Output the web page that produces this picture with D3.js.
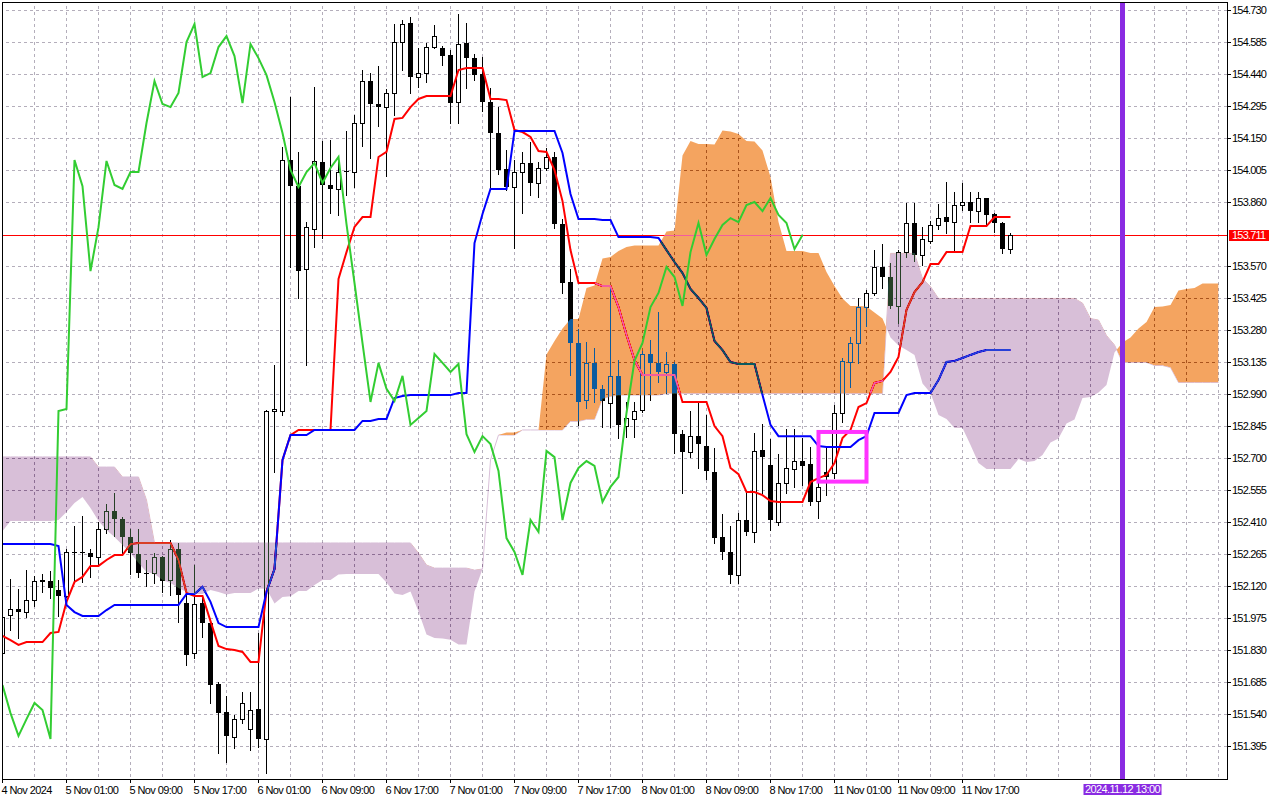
<!DOCTYPE html>
<html>
<head>
<meta charset="utf-8">
<script src="https://cdn.jsdelivr.net/npm/d3@7"></script>
<style>
  body { margin: 0; background: #fff; }
  svg { display: block; font-family: "Liberation Sans", Arial, sans-serif; }
</style>
</head>
<body>
<div id="chart"></div>
<script>
// USDJPY H1 with Ichimoku. Bar 0 = 4 Nov 2024 17:00, bar 126 = last bar.
var opens = [
151.816,151.988,152.016,152.002,152.057,152.143,152.143,152.102,152.075,152.274,
152.274,152.269,152.252,152.379,152.460,152.424,152.342,152.265,152.179,152.179,
152.252,152.147,152.288,152.043,151.816,152.043,151.952,151.676,151.549,151.436,
151.517,151.472,151.563,151.427,152.913,152.913,154.050,153.932,153.556,153.737,
154.041,153.937,153.919,154.000,153.996,154.218,154.408,154.304,154.290,154.354,
154.585,154.671,154.426,154.444,154.562,154.558,154.526,154.313,154.580,154.512,
154.440,154.313,154.173,154.009,153.928,153.996,154.036,153.946,154.014,154.064,
153.760,153.498,153.221,152.963,153.131,153.013,152.949,153.072,152.845,152.877,
152.917,153.171,153.131,153.090,153.126,152.808,152.727,152.799,152.754,152.637,
152.342,152.274,152.170,152.419,152.365,152.736,152.668,152.410,152.587,152.650,
152.686,152.673,152.505,152.637,152.632,152.904,153.135,153.221,153.384,153.448,
153.566,153.520,153.389,153.633,153.765,153.620,153.683,153.756,153.792,153.769,
153.846,153.860,153.819,153.878,153.806,153.765,153.647];
var highs = [
152.034,152.152,152.107,152.192,152.165,152.174,152.188,152.147,152.288,152.392,
152.437,152.288,152.410,152.492,152.541,152.433,152.379,152.379,152.238,152.269,
152.256,152.328,152.315,152.079,152.215,152.070,151.955,151.685,151.622,151.536,
151.640,151.640,151.907,152.917,153.122,154.110,154.336,154.087,153.769,154.381,
154.136,154.141,154.059,154.182,154.254,154.458,154.444,154.476,154.372,154.666,
154.685,154.698,154.558,154.580,154.662,154.567,154.549,154.712,154.671,154.530,
154.517,154.376,154.290,154.096,154.050,154.087,154.132,154.041,154.105,154.087,
153.783,153.556,153.285,153.226,153.198,153.031,153.470,153.144,152.954,152.954,
153.185,153.235,153.362,153.180,153.135,152.827,152.913,152.949,152.895,152.745,
152.446,152.392,152.451,152.541,152.813,152.854,152.786,152.718,152.831,152.831,
152.790,152.750,152.587,152.750,152.940,153.153,153.248,153.425,153.461,153.642,
153.670,153.583,153.642,153.855,153.855,153.747,153.774,153.851,153.950,153.905,
153.946,153.905,153.905,153.880,153.810,153.769,153.719];
var lows = [
151.803,151.921,151.885,151.979,152.030,152.093,152.066,151.984,152.072,152.147,
152.138,152.161,152.220,152.360,152.347,152.260,152.174,152.161,152.120,152.134,
152.093,152.079,151.957,151.762,151.794,151.889,151.590,151.363,151.323,151.386,
151.499,151.377,151.390,151.273,152.637,152.895,153.566,153.425,153.122,153.656,
153.697,153.810,153.801,153.892,153.928,154.114,154.059,154.204,153.978,154.254,
154.458,154.354,154.381,154.404,154.558,154.481,154.218,154.218,154.376,154.413,
154.272,153.928,153.987,153.914,153.651,153.810,153.892,153.883,154.005,153.742,
153.448,153.076,152.850,152.927,152.954,152.840,152.840,152.790,152.795,152.795,
152.908,152.963,153.044,152.995,152.723,152.541,152.704,152.655,152.605,152.315,
152.242,152.134,152.134,152.351,152.319,152.541,152.374,152.397,152.541,152.569,
152.578,152.487,152.428,152.532,152.609,152.863,153.021,153.131,153.298,153.439,
153.470,153.380,153.312,153.610,153.592,153.574,153.674,153.738,153.719,153.633,
153.824,153.769,153.769,153.756,153.724,153.629,153.629];
var closes = [
151.979,152.016,152.002,152.057,152.143,152.147,152.111,152.075,152.274,152.269,
152.269,152.252,152.379,152.460,152.424,152.342,152.269,152.179,152.178,152.252,
152.143,152.288,152.079,151.807,152.039,151.952,151.671,151.544,151.441,151.517,
151.590,151.558,151.427,152.913,152.922,154.050,153.932,153.547,153.746,154.046,
153.937,153.919,153.996,153.996,154.218,154.408,154.304,154.290,154.354,154.585,
154.666,154.426,154.444,154.562,154.612,154.521,154.308,154.576,154.512,154.435,
154.313,154.173,154.005,153.928,153.996,154.036,153.946,154.014,154.064,153.760,
153.493,153.221,152.954,153.131,153.013,152.958,153.072,152.850,152.881,152.913,
153.171,153.131,153.090,153.126,152.808,152.727,152.799,152.763,152.641,152.337,
152.274,152.170,152.419,152.365,152.732,152.704,152.419,152.587,152.655,152.686,
152.664,152.501,152.569,152.614,152.904,153.140,153.221,153.384,153.448,153.566,
153.520,153.389,153.633,153.765,153.620,153.692,153.756,153.787,153.769,153.846,
153.860,153.819,153.878,153.801,153.765,153.647,153.711];

var tenkan = [
151.894,151.875,151.853,151.866,151.866,151.866,151.907,151.912,152.048,152.138,
152.161,152.211,152.211,152.238,152.260,152.260,152.310,152.315,152.315,152.315,
152.315,152.315,152.238,152.088,152.075,152.075,151.961,151.848,151.834,151.830,
151.821,151.776,151.776,152.097,152.197,152.691,152.804,152.827,152.827,152.827,
152.827,152.827,153.511,153.633,153.747,153.792,153.792,154.064,154.087,154.236,
154.241,154.290,154.327,154.340,154.340,154.340,154.340,154.458,154.467,154.467,
154.467,154.327,154.327,154.322,154.186,154.177,154.155,154.091,154.087,154.005,
153.864,153.642,153.493,153.493,153.493,153.479,153.479,153.384,153.257,153.144,
153.076,153.076,153.076,153.076,153.076,152.954,152.954,152.954,152.954,152.845,
152.799,152.655,152.627,152.546,152.546,152.532,152.505,152.501,152.501,152.501,
152.501,152.591,152.609,152.623,152.677,152.790,152.827,152.931,152.949,153.040,
153.049,153.090,153.158,153.371,153.452,153.497,153.579,153.579,153.633,153.633,
153.633,153.751,153.751,153.751,153.792,153.792,153.792];
var kijun = [
152.310,152.310,152.310,152.310,152.310,152.310,152.310,152.301,152.034,152.002,
151.984,151.984,151.984,152.011,152.034,152.034,152.034,152.034,152.034,152.034,
152.034,152.034,152.034,152.084,152.084,152.116,152.048,151.952,151.934,151.934,
151.934,151.934,151.934,152.093,152.197,152.691,152.804,152.804,152.804,152.827,
152.827,152.827,152.827,152.827,152.827,152.868,152.868,152.877,152.877,152.972,
152.981,152.985,152.985,152.985,152.985,152.985,152.985,152.994,152.994,153.674,
153.806,153.919,153.919,153.919,154.182,154.182,154.182,154.182,154.182,154.182,
154.082,153.896,153.783,153.783,153.783,153.778,153.778,153.701,153.701,153.701,
153.701,153.701,153.697,153.642,153.588,153.538,153.466,153.425,153.380,153.230,
153.189,153.135,153.126,153.126,153.126,152.985,152.850,152.799,152.799,152.799,
152.799,152.799,152.754,152.750,152.750,152.750,152.750,152.781,152.799,152.904,
152.904,152.904,152.904,152.985,152.994,152.994,152.994,153.053,153.135,153.140,
153.153,153.167,153.180,153.189,153.189,153.189,153.189];
// Senkou spans run 26 bars past the last candle (bars 0..152)
var spanA = [
152.369,152.414,152.414,152.414,152.414,152.414,152.414,152.419,152.455,152.496,
152.523,152.473,152.414,152.374,152.342,152.306,152.269,152.224,152.183,152.174,
152.147,152.134,152.111,152.093,152.084,152.084,152.102,152.093,152.082,152.088,
152.088,152.088,152.109,152.107,152.041,152.070,152.073,152.097,152.097,152.124,
152.147,152.147,152.172,152.174,152.174,152.174,152.174,152.174,152.136,152.086,
152.079,152.095,152.004,151.900,151.884,151.882,151.877,151.855,151.855,152.095,
152.197,152.691,152.804,152.815,152.815,152.827,152.827,152.827,153.169,153.230,
153.287,153.330,153.330,153.470,153.482,153.604,153.611,153.638,153.656,153.663,
153.663,153.663,153.663,153.726,153.731,154.071,154.136,154.123,154.123,154.120,
154.184,154.179,154.168,154.136,154.134,154.093,153.973,153.769,153.638,153.638,
153.638,153.629,153.629,153.543,153.479,153.423,153.389,153.389,153.386,153.359,
153.332,153.246,153.210,153.189,153.167,153.038,152.994,152.895,152.877,152.836,
152.836,152.759,152.677,152.650,152.650,152.650,152.650,152.695,152.682,152.686,
152.714,152.770,152.788,152.856,152.874,152.972,152.976,152.997,153.031,153.178,
153.223,153.246,153.287,153.316,153.384,153.386,153.393,153.459,153.466,153.470,
153.491,153.491,153.491];
var spanB = [
152.705,152.705,152.705,152.705,152.705,152.705,152.705,152.705,152.705,152.705,
152.705,152.705,152.659,152.659,152.659,152.614,152.614,152.614,152.510,152.315,
152.315,152.315,152.315,152.315,152.315,152.315,152.315,152.315,152.315,152.315,
152.315,152.315,152.315,152.315,152.315,152.315,152.315,152.315,152.315,152.315,
152.315,152.315,152.315,152.315,152.315,152.315,152.315,152.315,152.315,152.315,
152.315,152.315,152.269,152.215,152.201,152.201,152.201,152.201,152.201,152.192,
152.197,152.691,152.804,152.804,152.804,152.827,152.827,152.827,152.827,152.827,
152.827,152.866,152.866,152.875,152.875,152.969,152.979,152.985,152.985,152.985,
152.985,152.985,152.985,152.992,152.992,152.992,152.992,152.992,152.992,152.992,
152.992,152.992,152.992,152.992,152.992,152.992,152.992,152.992,152.992,152.992,
152.992,152.992,152.992,152.992,152.992,152.992,152.992,152.992,152.992,152.992,
152.992,153.627,153.627,153.627,153.627,153.513,153.477,153.423,153.423,153.423,
153.423,153.423,153.423,153.423,153.423,153.423,153.423,153.423,153.423,153.423,
153.423,153.423,153.423,153.423,153.423,153.402,153.332,153.325,153.255,153.212,
153.133,153.133,153.133,153.133,153.119,153.119,153.110,153.042,153.042,153.042,
153.042,153.042,153.042];
var chikouShift = 26; // chikou span = close drawn 26 bars back

var timeTicks = [0, 8, 16, 24, 32, 40, 48, 56, 64, 72, 80, 88, 96, 104, 112, 120];
var timeLabels = ["4 Nov 2024", "5 Nov 01:00", "5 Nov 09:00", "5 Nov 17:00", "6 Nov 01:00",
  "6 Nov 09:00", "6 Nov 17:00", "7 Nov 01:00", "7 Nov 09:00", "7 Nov 17:00", "8 Nov 01:00",
  "8 Nov 09:00", "8 Nov 17:00", "11 Nov 01:00", "11 Nov 09:00", "11 Nov 17:00"];
var priceTicks = [154.730, 154.585, 154.440, 154.295, 154.150, 154.005, 153.860, 153.570,
  153.425, 153.280, 153.135, 152.990, 152.845, 152.700, 152.555, 152.410, 152.265, 152.120,
  151.975, 151.830, 151.685, 151.540, 151.395];
var lastPrice = 153.711;
var markerBar = 140, markerLabel = "2024.11.12 13:00";
var boxBars = [102, 108], boxPrices = [152.818, 152.593];

var width = 1280, height = 800;
var right = 1227, bottom = 779;

var x = d3.scaleLinear().domain([0, 152]).range([2, 1218]);
var y = d3.scaleLinear().domain([151.395, 154.730]).range([746, 10]);
function cx(i) { return x(i) + 0.5; }

var svg = d3.select("#chart").append("svg")
    .attr("width", width)
    .attr("height", height);
svg.append("rect").attr("width", width).attr("height", height).attr("fill", "#fff");

var defs = svg.append("defs");
defs.append("clipPath").attr("id", "plot")
  .append("rect").attr("x", 3).attr("y", 3).attr("width", right - 3).attr("height", bottom - 3);
defs.append("clipPath").attr("id", "aboveB")
  .append("path").attr("d", d3.area()
    .x(function(d, i) { return cx(i); })
    .y0(0)
    .y1(function(d) { return y(d); })(spanB));
defs.append("clipPath").attr("id", "belowB")
  .append("path").attr("d", d3.area()
    .x(function(d, i) { return cx(i); })
    .y0(function(d) { return y(d); })
    .y1(height)(spanB));

var plot = svg.append("g").attr("clip-path", "url(#plot)");
plot.append("rect").attr("width", width).attr("height", height).attr("fill", "#fff");

// grid
var grid = plot.append("g")
  .attr("stroke", "#b4aebb")
  .attr("stroke-dasharray", "3,3")
  .attr("shape-rendering", "crispEdges");
grid.selectAll("line.h").data(priceTicks).enter().append("line")
  .attr("x1", 0).attr("x2", right)
  .attr("y1", function(d) { return Math.round(y(d)) + 0.5; })
  .attr("y2", function(d) { return Math.round(y(d)) + 0.5; });
grid.selectAll("line.v").data(d3.range(4, 153, 4)).enter().append("line")
  .attr("x1", function(d) { return cx(d); }).attr("x2", function(d) { return cx(d); })
  .attr("y1", 0).attr("y2", bottom);

// bid line
plot.append("line")
  .attr("x1", 0).attr("x2", right)
  .attr("y1", Math.round(y(lastPrice)) + 0.5).attr("y2", Math.round(y(lastPrice)) + 0.5)
  .attr("stroke", "#ff0000").attr("shape-rendering", "crispEdges");

// candles
var candle = plot.append("g").attr("shape-rendering", "crispEdges")
  .selectAll("g").data(d3.range(closes.length)).enter().append("g");
candle.append("line")
  .attr("x1", function(i) { return cx(i); })
  .attr("x2", function(i) { return cx(i); })
  .attr("y1", function(i) { return Math.round(y(highs[i])); })
  .attr("y2", function(i) { return Math.round(y(lows[i])) + 1; })
  .attr("stroke", "#000");
candle.append("rect")
  .attr("x", function(i) { return closes[i] >= opens[i] ? x(i) - 1.5 : x(i) - 2; })
  .attr("y", function(i) { return Math.round(y(Math.max(opens[i], closes[i]))) + (closes[i] >= opens[i] ? 0.5 : 0); })
  .attr("width", function(i) { return closes[i] >= opens[i] ? 4 : 5; })
  .attr("height", function(i) {
    return Math.max(1, Math.round(y(Math.min(opens[i], closes[i]))) - Math.round(y(Math.max(opens[i], closes[i]))));
  })
  .attr("fill", function(i) { return closes[i] >= opens[i] ? "#fff" : "#000"; })
  .attr("stroke", function(i) { return closes[i] >= opens[i] ? "#000" : "none"; });

var line = d3.line()
  .x(function(d, i) { return cx(i); })
  .y(function(d) { return y(d); });

plot.append("path").datum(tenkan).attr("d", line)
  .attr("fill", "none").attr("stroke", "#ff0000").attr("stroke-width", 2);
plot.append("path").datum(kijun).attr("d", line)
  .attr("fill", "none").attr("stroke", "#0000ff").attr("stroke-width", 2);

// cloud, drawn in difference mode like the terminal does
var band = d3.area()
  .x(function(d, i) { return cx(i); })
  .y0(function(d, i) { return y(spanA[i]); })
  .y1(function(d, i) { return y(spanB[i]); });
var cloud = plot.append("g").style("mix-blend-mode", "difference");
cloud.append("path").datum(spanB).attr("d", line)
  .attr("fill", "none").attr("stroke", "#274027").attr("stroke-width", 1);
cloud.append("path").datum(spanA).attr("d", band)
  .attr("fill", "#0b5b9f").attr("clip-path", "url(#aboveB)");
cloud.append("path").datum(spanA).attr("d", band)
  .attr("fill", "#274027").attr("clip-path", "url(#belowB)");

// chikou
plot.append("path").datum(closes.slice(chikouShift)).attr("d", line)
  .attr("fill", "none").attr("stroke", "#32cd32").attr("stroke-width", 2);

// vertical marker and rectangle
plot.append("rect")
  .attr("x", cx(markerBar) - 2.5).attr("y", 0)
  .attr("width", 5).attr("height", bottom)
  .attr("fill", "#8a2be2");
plot.append("rect")
  .attr("x", cx(boxBars[0])).attr("y", y(boxPrices[0]))
  .attr("width", cx(boxBars[1]) - cx(boxBars[0]))
  .attr("height", y(boxPrices[1]) - y(boxPrices[0]))
  .attr("fill", "none").attr("stroke", "#ff33ff").attr("stroke-width", 4);

// frame
svg.append("rect")
  .attr("x", 2.5).attr("y", 2.5)
  .attr("width", right - 2).attr("height", bottom - 2)
  .attr("fill", "none").attr("stroke", "#000").attr("shape-rendering", "crispEdges");

// axes
var yAxis = svg.append("g")
  .attr("transform", "translate(" + right + ",0)")
  .call(d3.axisRight(y).tickValues(priceTicks).tickSize(4).tickPadding(1)
    .tickFormat(d3.format(".3f")));
var xAxis = svg.append("g")
  .attr("transform", "translate(0," + bottom + ")")
  .call(d3.axisBottom(x).tickValues(timeTicks).tickSize(4)
    .tickFormat(function(d, i) { return timeLabels[i]; }));
[yAxis, xAxis].forEach(function(a) {
  a.select(".domain").remove();
  a.attr("font-family", "Liberation Sans, Arial, sans-serif").attr("font-size", 11);
  a.selectAll("text").attr("fill", "#000");
  a.selectAll("line").attr("stroke", "#000");
});
yAxis.selectAll("text").style("letter-spacing", "-0.8px");
xAxis.selectAll("text").attr("text-anchor", "start").attr("dx", -1)
  .style("letter-spacing", "-0.6px");

// price label
var py = y(lastPrice);
svg.append("rect")
  .attr("x", 1229).attr("y", Math.round(py) - 5)
  .attr("width", 40).attr("height", 11).attr("fill", "#ff0000");
svg.append("text")
  .attr("x", 1232).attr("y", py).attr("dy", "0.35em")
  .attr("font-size", 11).attr("fill", "#fff").style("letter-spacing", "-0.8px")
  .text(d3.format(".3f")(lastPrice));

// time label of the vertical marker
svg.append("rect")
  .attr("x", cx(markerBar) - 39).attr("y", 784)
  .attr("width", 78).attr("height", 11).attr("fill", "#8a2be2");
svg.append("text")
  .attr("x", cx(markerBar)).attr("y", 793)
  .attr("text-anchor", "middle")
  .attr("font-size", 11).attr("fill", "#fff").style("letter-spacing", "-0.6px")
  .text(markerLabel);
</script>
</body>
</html>
